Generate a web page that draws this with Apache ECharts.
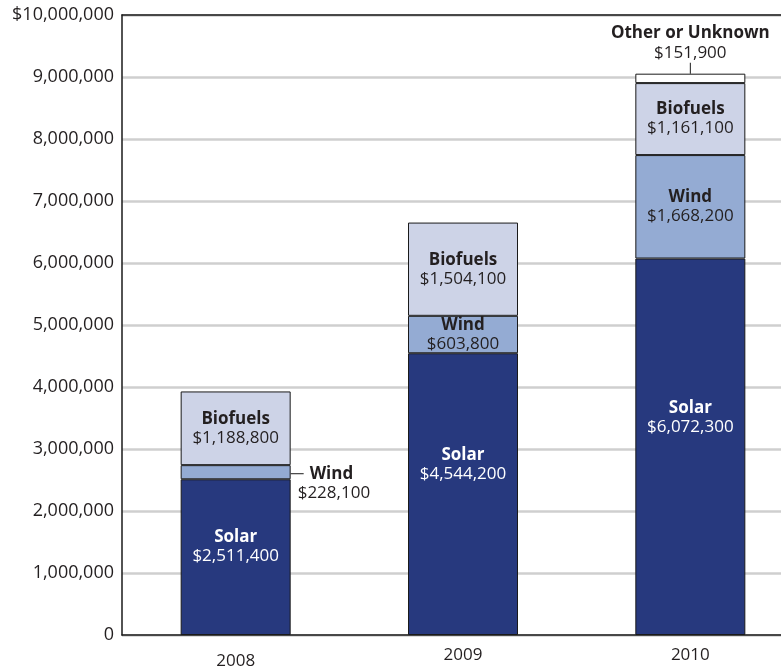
<!DOCTYPE html>
<html>
<head>
<meta charset="utf-8">
<script src="https://cdn.jsdelivr.net/npm/echarts@6/dist/echarts.min.js"></script>
<style>
  html, body { margin: 0; padding: 0; background: #fff; }
  #container { width: 781px; height: 669px; }
</style>
</head>
<body>
<div id="container"></div>
<script>
var years = ['2008', '2009', '2010'];
var solar = [2511400, 4544200, 6072300];
var wind = [228100, 603800, 1668200];
var biofuels = [1188800, 1504100, 1161100];
var other = [0, 0, 151900];
var yTicks = [0, 1000000, 2000000, 3000000, 4000000, 5000000, 6000000, 7000000, 8000000, 9000000, 10000000];

window.onload = function() {

var chartDom = document.getElementById('container');
var myChart = echarts.init(chartDom);
var option;

var font = 'Open Sans';
var ink = '#231f20';

function money(v) {
  return '$' + v.toLocaleString('en-US');
}

// solar labels sit a little above the middle of the segment
var solarShift = [-10, -29, -29];

function segLabel(name, color) {
  return {
    show: true,
    position: 'inside',
    fontFamily: font,
    formatter: function(p) {
      return '{b|' + name + '}\n{v|' + money(p.value) + '}';
    },
    rich: {
      b: { fontFamily: font, fontSize: 17, fontWeight: 'bold', color: color, lineHeight: 19 },
      v: { fontFamily: font, fontSize: 17, color: color, lineHeight: 19 }
    }
  };
}

var barBase = {
  type: 'bar',
  stack: 'total',
  barWidth: 110,
  itemStyle: { borderColor: '#1a1a1a', borderWidth: 1 }
};

option = {
  animation: false,
  grid: { left: 122, top: 15, bottom: 34, right: -23, outerBoundsMode: 'none', containLabel: false },
  xAxis: [
    {
      type: 'category',
      data: years,
      axisLine: { lineStyle: { color: '#1a1a1a', width: 1.5 } },
      axisTick: { show: false },
      axisLabel: {
        margin: 12,
        formatter: function(v, i) {
          return i === 0 ? '{low|' + v + '}' : '{n|' + v + '}';
        },
        rich: {
          low: { fontFamily: font, fontSize: 17, color: ink, padding: [6, 0, 0, 0] },
          n: { fontFamily: font, fontSize: 17, color: ink }
        }
      }
    },
    {
      type: 'category',
      data: years,
      position: 'top',
      axisLine: { lineStyle: { color: '#1a1a1a', width: 1.5 } },
      axisTick: { show: false },
      axisLabel: { show: false }
    }
  ],
  yAxis: {
    type: 'value',
    min: yTicks[0],
    max: yTicks[yTicks.length - 1],
    interval: yTicks[1] - yTicks[0],
    axisLine: { show: true, lineStyle: { color: '#1a1a1a', width: 1.5 } },
    axisTick: { show: false },
    splitLine: { lineStyle: { color: '#cfcfcf', width: 2.5 } },
    axisLabel: {
      margin: 8,
      fontFamily: font,
      fontSize: 18,
      color: ink,
      formatter: function(v) {
        var s = v.toLocaleString('en-US');
        return v === yTicks[yTicks.length - 1] ? '$' + s : s;
      }
    }
  },
  series: [
    Object.assign({}, barBase, {
      name: 'Solar',
      itemStyle: { color: '#27397e', borderColor: '#1a1a1a', borderWidth: 1 },
      data: solar.map(function(v, i) {
        return { value: v, label: { offset: [0, solarShift[i]] } };
      }),
      label: segLabel('Solar', '#ffffff')
    }),
    Object.assign({}, barBase, {
      name: 'Wind',
      itemStyle: { color: '#94abd3', borderColor: '#1a1a1a', borderWidth: 1 },
      data: wind.map(function(v, i) {
        if (i !== 0) return v;
        return {
          value: v,
          label: {
            position: 'right',
            distance: 0,
            offset: [0, 11],
            align: 'left',
            formatter: function(p) {
              return '{dash|}{b|Wind}\n{v|' + money(p.value) + '}';
            },
            rich: {
              dash: { width: 13, height: 1, backgroundColor: '#1a1a1a' },
              b: { fontFamily: font, fontSize: 17, fontWeight: 'bold', color: ink, lineHeight: 19, padding: [0, 0, 0, 6] },
              v: { fontFamily: font, fontSize: 17, color: ink, lineHeight: 19, padding: [0, 0, 0, 7] }
            }
          }
        };
      }),
      label: segLabel('Wind', ink)
    }),
    Object.assign({}, barBase, {
      name: 'Biofuels',
      itemStyle: { color: '#cdd3e7', borderColor: '#1a1a1a', borderWidth: 1 },
      data: biofuels,
      label: segLabel('Biofuels', ink)
    }),
    Object.assign({}, barBase, {
      name: 'Other or Unknown',
      itemStyle: { color: '#ffffff', borderColor: '#1a1a1a', borderWidth: 1 },
      data: other.map(function(v) { return v > 0 ? v : '-'; }),
      label: {
        show: true,
        position: 'top',
        distance: 0,
        align: 'center',
        formatter: function(p) {
          return '{b|Other or Unknown}\n{v|' + money(p.value) + '}\n{vl|}';
        },
        rich: {
          b: { fontFamily: font, fontSize: 17, fontWeight: 'bold', color: ink, lineHeight: 20, align: 'center' },
          v: { fontFamily: font, fontSize: 17, color: ink, lineHeight: 20, align: 'center' },
          vl: { width: 1, height: 11, backgroundColor: '#1a1a1a', align: 'center' }
        }
      }
    })
  ]
};

option && myChart.setOption(option);

}
</script>
</body>
</html>
